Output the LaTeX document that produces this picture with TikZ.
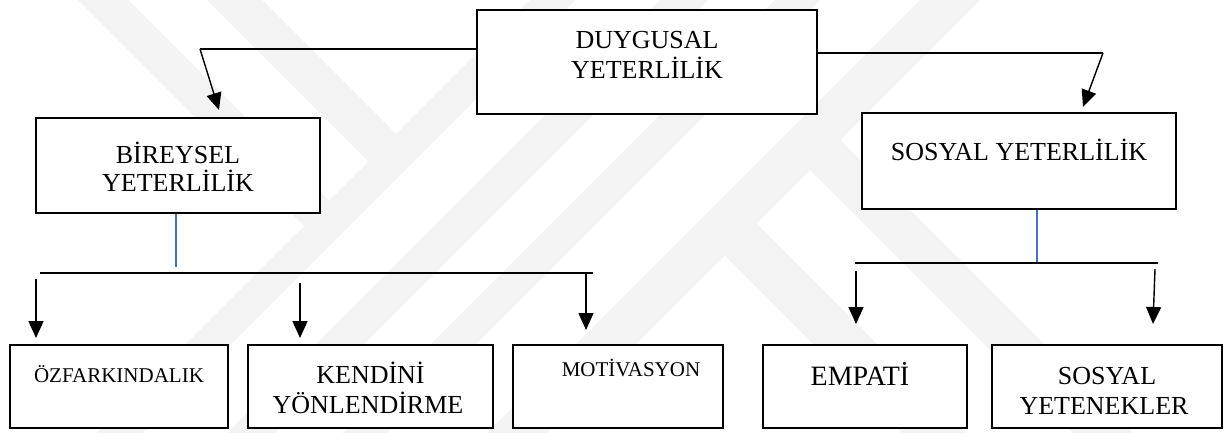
\documentclass[tikz,border=0pt]{standalone}
\usepackage{fontspec}
\setmainfont{Liberation Serif}
\usetikzlibrary{arrows.meta}
\definecolor{wm}{RGB}{243,243,243}
\definecolor{lineblue}{RGB}{68,114,196}
\begin{document}
\begin{tikzpicture}[x=1pt,y=-1pt,
  box/.style={draw, fill=white, line width=2.8pt, inner sep=0pt},
  lbl/.style={anchor=base, inner sep=0pt, font=\fontsize{26}{30}\selectfont},
  con/.style={line width=1.4pt},
  arr/.style={line width=1.4pt, -{Triangle[width=15pt,length=17pt]}},
  bline/.style={line width=1.1pt, draw=lineblue},
  band/.style={fill=wm}]
\useasboundingbox[fill=white] (0,0) rectangle (1224,433);

% faint watermark
\begin{scope}
\clip (0,0) rectangle (1224,433);
\fill[band] (530,0) -- (575,0) -- (142,433) -- (97,433) -- cycle;
\fill[band] (660,0) -- (708,0) -- (275,433) -- (227,433) -- cycle;
\fill[band] (775,0) -- (820,0) -- (387,433) -- (342,433) -- cycle;
\fill[band] (920,0) -- (980,0) -- (547,433) -- (487,433) -- cycle;
\fill[band] (78,0) -- (128,0) -- (339.5,211.5) -- (314.5,236.5) -- cycle;
\fill[band] (207,0) -- (262,0) -- (406.5,144.5) -- (379,172) -- cycle;
\fill[band] (741.5,208.5) -- (966,433) -- (902,433) -- (709.5,240.5) -- cycle;
\fill[band] (825,125) -- (1133,433) -- (1073,433) -- (795,155) -- cycle;
\end{scope}

% boxes
\node[box, minimum width=340, minimum height=104] (duy) at (647,62) {};
\node[box, minimum width=284, minimum height=95] (bir) at (178,165.5) {};
\node[box, minimum width=314, minimum height=96] (sos) at (1019,161) {};
\node[box, minimum width=218, minimum height=83] (ozf) at (119,386.5) {};
\node[box, minimum width=245, minimum height=83] (ken) at (370.5,386.5) {};
\node[box, minimum width=210, minimum height=83] (mot) at (618,386.5) {};
\node[box, minimum width=204, minimum height=83] (emp) at (865,386.5) {};
\node[box, minimum width=230, minimum height=83] (syt) at (1107,386.5) {};

% texts
\node[lbl] (duy1) at (647,48.6) {DUYGUSAL};
\node[lbl] (duy2) at (647,78.6) {YETERLİLİK};
\node[lbl] (bir1) at (178,163.6) {BİREYSEL};
\node[lbl] (bir2) at (178,191.6) {YETERLİLİK};
\node[lbl] (sos1) at (1019,160.6) {SOSYAL YETERLİLİK};
\node[lbl, font=\fontsize{21}{25}\selectfont] (ozf1) at (119,382) {ÖZFARKINDALIK};
\node[lbl] (ken1) at (370.5,383.6) {KENDİNİ};
\node[lbl] (ken2) at (368,413.6) {YÖNLENDİRME};
\node[lbl, font=\fontsize{21}{25}\selectfont] (mot1) at (631,376.5) {MOTİVASYON};
\node[lbl, font=\fontsize{28}{32}\selectfont] (emp1) at (860,385.5) {EMPATİ};
\node[lbl] (syt1) at (1107,384.6) {SOSYAL};
\node[lbl] (syt2) at (1104,414.6) {YETENEKLER};

% top connectors
\coordinate (jl) at (200,49);
\coordinate (tl) at (219,110);
\coordinate (jr) at (1103,53);
\coordinate (tr) at (1083,107);
\draw[con] (duy.west |- jl) -- (jl);
\draw[arr] (jl) -- (tl);
\draw[con] (duy.east |- jr) -- (jr);
\draw[arr] (jr) -- (tr);

% left branch
\coordinate (lb) at (176,267);
\coordinate (b1) at (40,273);
\coordinate (b2) at (593,273);
\draw[bline] (bir.south -| lb) -- (lb);
\draw[con] (b1) -- (b2);
\coordinate (a1s) at (36,279);
\coordinate (a1e) at (36,338);
\coordinate (a2s) at (300,283);
\coordinate (a2e) at (300,338);
\coordinate (a3s) at (586,273);
\coordinate (a3e) at (586,330);
\draw[arr] (a1s) -- (a1e);
\draw[arr] (a2s) -- (a2e);
\draw[arr] (a3s) -- (a3e);

% right branch
\coordinate (rb) at (1037,262);
\coordinate (c1) at (855,263);
\coordinate (c2) at (1158,263);
\draw[bline] (sos.south -| rb) -- (rb);
\draw[con] (c1) -- (c2);
\coordinate (a4s) at (856,271);
\coordinate (a4e) at (856,324);
\coordinate (a5s) at (1155,269);
\coordinate (a5e) at (1153,324);
\draw[arr] (a4s) -- (a4e);
\draw[arr] (a5s) -- (a5e);
\end{tikzpicture}
\end{document}
